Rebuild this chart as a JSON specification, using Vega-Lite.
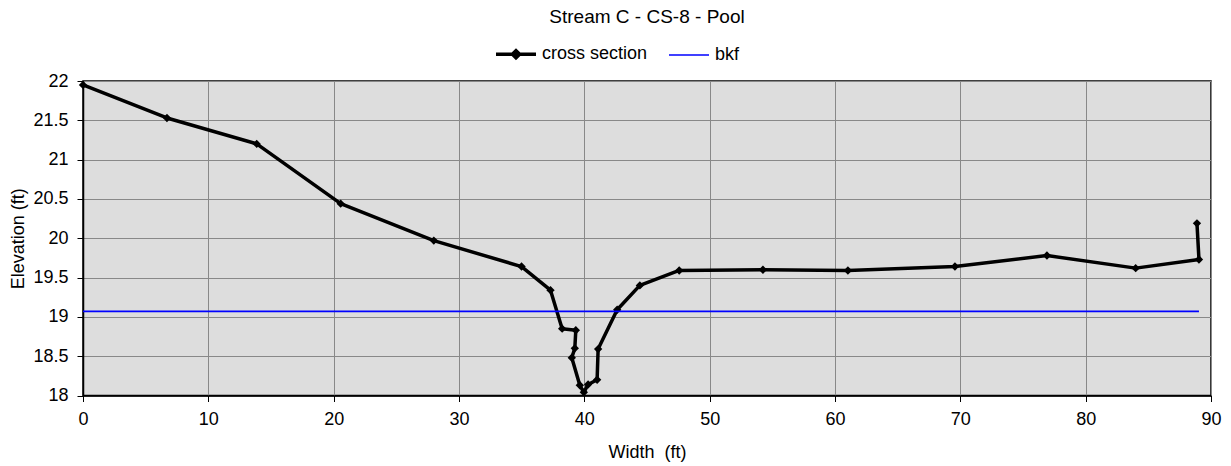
{
  "$schema": "https://vega.github.io/schema/vega-lite/v6.json",
  "width": 1128,
  "height": 314.5,
  "autosize": {"type": "none"},
  "padding": {"left": 83, "top": 81, "right": 20, "bottom": 70.5},
  "background": "white",
  "title": {
    "text": "Stream C - CS-8 - Pool",
    "font": "Liberation Sans",
    "fontSize": 19,
    "fontWeight": "normal",
    "color": "black",
    "anchor": "middle",
    "baseline": "alphabetic",
    "offset": 3
  },
  "config": {
    "view": {"fill": "#DDDDDD", "stroke": "black", "strokeWidth": 1.5},
    "axis": {
      "labelFont": "Liberation Sans",
      "labelFontSize": 18,
      "labelColor": "black",
      "titleFont": "Liberation Sans",
      "titleFontSize": 18,
      "titleFontWeight": "normal",
      "titleColor": "black",
      "gridColor": "#888888",
      "gridWidth": 1,
      "gridOpacity": 1,
      "domainColor": "black",
      "domainWidth": 1.5,
      "tickColor": "black",
      "tickSize": 6,
      "tickWidth": 1
    },
    "legend": {
      "labelFont": "Liberation Sans",
      "labelFontSize": 18,
      "labelColor": "black"
    }
  },
  "data": {
    "values": [
      {"series": "cross section", "order": 1, "width": 0, "elevation": 21.95},
      {"series": "cross section", "order": 2, "width": 6.7, "elevation": 21.53},
      {"series": "cross section", "order": 3, "width": 13.86, "elevation": 21.2},
      {"series": "cross section", "order": 4, "width": 20.56, "elevation": 20.44},
      {"series": "cross section", "order": 5, "width": 27.99, "elevation": 19.97},
      {"series": "cross section", "order": 6, "width": 34.99, "elevation": 19.64},
      {"series": "cross section", "order": 7, "width": 37.3, "elevation": 19.34},
      {"series": "cross section", "order": 8, "width": 38.23, "elevation": 18.85},
      {"series": "cross section", "order": 9, "width": 39.32, "elevation": 18.83},
      {"series": "cross section", "order": 10, "width": 39.24, "elevation": 18.6},
      {"series": "cross section", "order": 11, "width": 39.0, "elevation": 18.48},
      {"series": "cross section", "order": 12, "width": 39.64, "elevation": 18.13},
      {"series": "cross section", "order": 13, "width": 39.96, "elevation": 18.04},
      {"series": "cross section", "order": 14, "width": 40.3, "elevation": 18.14},
      {"series": "cross section", "order": 15, "width": 41.02, "elevation": 18.2},
      {"series": "cross section", "order": 16, "width": 41.1, "elevation": 18.59},
      {"series": "cross section", "order": 17, "width": 42.62, "elevation": 19.09},
      {"series": "cross section", "order": 18, "width": 44.43, "elevation": 19.4},
      {"series": "cross section", "order": 19, "width": 47.57, "elevation": 19.59},
      {"series": "cross section", "order": 20, "width": 54.25, "elevation": 19.6},
      {"series": "cross section", "order": 21, "width": 61.03, "elevation": 19.59},
      {"series": "cross section", "order": 22, "width": 69.57, "elevation": 19.64},
      {"series": "cross section", "order": 23, "width": 76.91, "elevation": 19.78},
      {"series": "cross section", "order": 24, "width": 83.99, "elevation": 19.62},
      {"series": "cross section", "order": 25, "width": 89.04, "elevation": 19.73},
      {"series": "cross section", "order": 26, "width": 88.88, "elevation": 20.19},
      {"series": "bkf", "order": 1, "width": 0, "elevation": 19.07},
      {"series": "bkf", "order": 2, "width": 89.04, "elevation": 19.07}
    ]
  },
  "encoding": {
    "x": {
      "field": "width",
      "type": "quantitative",
      "scale": {"domain": [0, 90], "nice": false, "zero": false},
      "axis": {
        "title": "Width\u00a0 (ft)",
        "values": [0, 10, 20, 30, 40, 50, 60, 70, 80, 90],
        "labelPadding": 9,
        "titlePadding": 15,
        "labelFlush": false
      }
    },
    "y": {
      "field": "elevation",
      "type": "quantitative",
      "scale": {"domain": [18, 22], "nice": false, "zero": false},
      "axis": {
        "title": "Elevation (ft)",
        "values": [18, 18.5, 19, 19.5, 20, 20.5, 21, 21.5, 22],
        "labelExpr": "'' + datum.value",
        "labelPadding": 9,
        "titlePadding": 5,
        "labelFlush": false
      }
    }
  },
  "layer": [
    {
      "transform": [{"filter": "datum.series === 'cross section'"}],
      "mark": {"type": "line", "strokeWidth": 3.5, "strokeJoin": "round"},
      "encoding": {
        "order": {"field": "order", "type": "quantitative"},
        "color": {
          "field": "series",
          "type": "nominal",
          "scale": {"domain": ["cross section", "bkf"], "range": ["black", "#0000FF"]},
          "legend": {
            "title": null,
            "orient": "none",
            "direction": "horizontal",
            "legendX": 424,
            "legendY": -36,
            "symbolType": "stroke",
            "symbolSize": 1600,
            "symbolStrokeWidth": 3,
            "labelOffset": 17,
            "columnPadding": 18,
            "encode": {
              "symbols": {
                "update": {
                  "strokeWidth": {"signal": "datum.value === 'bkf' ? 1.5 : 3.5"},
                  "shape": {"signal": "datum.value === 'bkf' ? 'stroke' : 'M-1,0H1M-0.18,0L0,-0.18L0.18,0L0,0.18Z'"},
                  "fill": {"signal": "datum.value === 'bkf' ? 'transparent' : 'black'"}
                }
              }
            }
          }
        }
      }
    },
    {
      "transform": [{"filter": "datum.series === 'cross section'"}],
      "mark": {"type": "point", "shape": "diamond", "filled": true, "size": 70, "color": "black", "opacity": 1},
      "encoding": {}
    },
    {
      "transform": [{"filter": "datum.series === 'bkf'"}],
      "mark": {"type": "line", "strokeWidth": 1.8},
      "encoding": {
        "order": {"field": "order", "type": "quantitative"},
        "color": {"field": "series", "type": "nominal"}
      }
    }
  ]
}
